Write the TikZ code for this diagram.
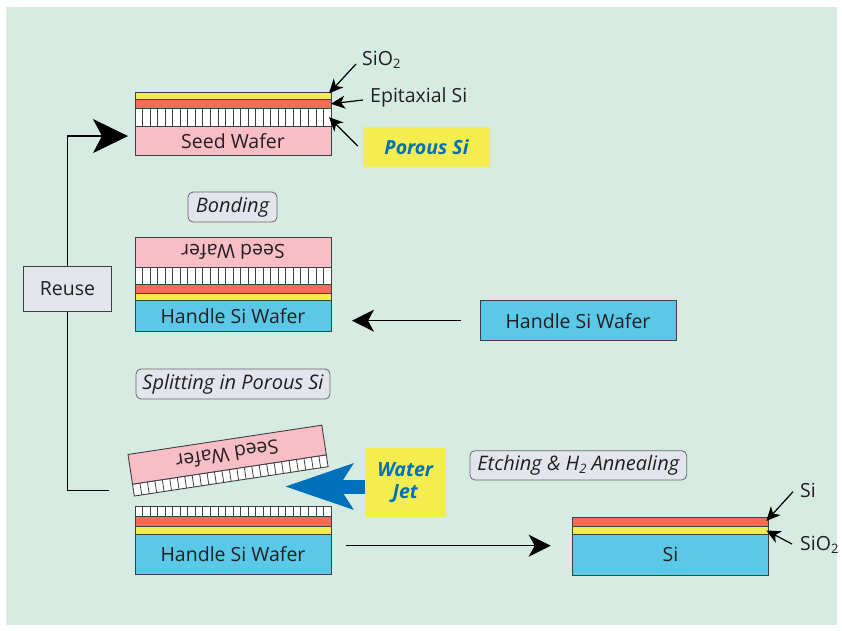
\documentclass[tikz,border=0pt]{standalone}
\usepackage{fontspec}
\setmainfont{Open Sans}
\usetikzlibrary{arrows.meta,calc}

\definecolor{mint}{RGB}{214,235,226}
\definecolor{oxide}{RGB}{242,236,80}
\definecolor{episi}{RGB}{242,107,91}
\definecolor{seedpink}{RGB}{248,190,198}
\definecolor{handleblue}{RGB}{91,200,232}
\definecolor{tagfill}{RGB}{226,230,236}
\definecolor{edge}{RGB}{64,64,66}
\definecolor{ink}{RGB}{35,31,32}
\definecolor{jetblue}{RGB}{0,112,186}
\definecolor{noteyellow}{RGB}{243,237,80}

% small lowered "2" for chemical formulas
\newcommand{\subtwo}{\raisebox{-0.15em}{\fontsize{13}{13}\selectfont 2}}
% vertical cell walls of a porous-silicon layer (26 cells)
\newcommand{\porecells}[1]{%
  \foreach \k in {1,...,25}
    \draw[cellwall] ($(#1.south west)!\k/26!(#1.south east)$) --
                    ($(#1.north west)!\k/26!(#1.north east)$);}

\begin{document}
\begin{tikzpicture}[x=1pt,y=-1pt,
  layer/.style={draw=edge, line width=0.9pt, minimum width=196pt,
    inner sep=0pt, outer sep=0pt, anchor=north west},
  oxlayer/.style={layer, fill=oxide},
  epilayer/.style={layer, fill=episi},
  porlayer/.style={layer, fill=white},
  seedlayer/.style={layer, fill=seedpink},
  handlelayer/.style={layer, fill=handleblue},
  cellwall/.style={draw=edge, line width=0.8pt},
  wafertext/.style={font=\fontsize{19.5}{22}\selectfont, text=ink, inner sep=0pt},
  labeltext/.style={font=\fontsize{19.5}{22}\selectfont, text=ink, inner sep=0pt, anchor=west},
  steptag/.style={draw=edge!80, line width=0.8pt, fill=tagfill, rounded corners=5pt,
    font=\fontsize{20}{22}\selectfont\itshape, text=ink, inner sep=0pt},
  notebox/.style={fill=noteyellow, inner sep=0pt, text=jetblue,
    font=\fontsize{19.5}{22}\selectfont\bfseries\itshape, align=center},
  conn/.style={draw=black, line width=1.3pt},
  pointer/.style={draw=black, line width=1.2pt,
    -{Stealth[length=14pt, width=13pt, inset=4pt]}},
  flow/.style={conn, -{Stealth[length=22pt, width=22pt, inset=6pt]}},
]
\useasboundingbox (0,0) rectangle (842,630);
\fill[white] (0,0) rectangle (842,630);
\fill[mint] (6,7) rectangle (837,625);

% ---- seed wafer with porous Si, epitaxial Si and oxide
\node[seedlayer, minimum height=29.7pt] (s1seed) at (135,126) {};
\node[wafertext] at (s1seed.center) {Seed Wafer};
\node[porlayer, minimum height=17.7pt] (s1por) at (135,108.3) {};
\porecells{s1por}
\node[epilayer, minimum height=9pt] (s1epi) at (135,99.3) {};
\node[oxlayer, minimum height=7pt] (s1ox) at (135,92.3) {};

\node[labeltext] (labox) at (362,60) {SiO\subtwo};
\node[labeltext] (labepi) at (370,97) {Epitaxial Si};
\node[notebox, minimum width=127pt, minimum height=40pt] (porbox) at (426.5,147) {Porous Si};
\draw[pointer] ($(labox.west)+(-6,4)$) -- ($(s1ox.north east)+(-2,1)$);
\draw[pointer] ($(labepi.west)+(-7,3)$) -- (s1epi.east);
\draw[pointer] ($(porbox.west)+(-5,-1)$) -- ($(s1por.east)+(-2,0)$);

% ---- bonding
\node[steptag, minimum width=89pt, minimum height=30pt] (tagbond) at (232.5,207) {Bonding};

\node[seedlayer, minimum height=30pt] (bseed) at (135,237) {};
\node[wafertext, rotate=180] at (bseed.center) {Seed Wafer};
\node[porlayer, minimum height=17pt] (bpor) at (135,267) {};
\porecells{bpor}
\node[epilayer, minimum height=9pt] (bepi) at (135,284) {};
\node[oxlayer, minimum height=7.7pt] (box) at (135,293) {};
\node[handlelayer, minimum height=31pt] (bhandle) at (135,300.7) {};
\node[wafertext] at (bhandle.center) {Handle Si Wafer};

\node[handlelayer, minimum height=40pt] (rhandle) at (480,300.7) {};
\node[wafertext] at (rhandle.center) {Handle Si Wafer};
\draw[flow] ($(rhandle.west)+(-19,0)$) -- ($(bhandle.east |- rhandle.west)+(21,0)$);

% ---- splitting
\node[steptag, minimum width=194pt, minimum height=30pt] (tagsplit) at (233,384) {Splitting in Porous Si};

\begin{scope}[shift={(134.3,496)}, rotate=8.6, transform shape]
  \node[porlayer, anchor=south west, minimum height=12pt] (tpor) at (0,0) {};
  \porecells{tpor}
  \node[seedlayer, anchor=south west, minimum height=30pt] (tseed) at (tpor.north west) {};
  \node[wafertext, rotate=180] at (tseed.center) {Seed Wafer};
\end{scope}

\node[notebox, minimum width=80.7pt, minimum height=68.4pt] (jet) at (405.3,482.5) {Water\\Jet};
\draw[jetblue, line width=14pt, -{Stealth[length=67pt, width=44pt, inset=13pt]}]
  ($(jet.west)+(0,4)$) -- ++(-80,0);

\node[porlayer, minimum height=10pt] (cpor) at (135,506.7) {};
\porecells{cpor}
\node[epilayer, minimum height=9.3pt] (cepi) at (135,516.7) {};
\node[oxlayer, minimum height=8pt] (cox) at (135,526) {};
\node[handlelayer, minimum height=40.3pt] (chandle) at (135,534) {};
\node[wafertext] at (chandle.center) {Handle Si Wafer};

% ---- etching and annealing: final SOI wafer
\node[steptag, minimum width=216.7pt, minimum height=29.3pt] (tagetch) at (578.3,465.3) {Etching \& H\subtwo{} Annealing};

\node[epilayer, minimum height=9.4pt, minimum width=195.6pt] (dsi) at (572.7,517.3) {};
\node[oxlayer, minimum height=7.6pt, minimum width=195.6pt] (dox) at (572.7,526.7) {};
\node[handlelayer, minimum height=40.7pt, minimum width=195.6pt] (dsub) at (572.7,534.3) {};
\node[wafertext] at (dsub.center) {Si};

\node[labeltext] (labsi) at (800,490.7) {Si};
\node[labeltext] (labox2) at (800,545) {SiO\subtwo};
\draw[pointer] ($(labsi.west)+(-7,1)$) -- ($(dsi.east)+(-2,-1)$);
\draw[pointer] ($(labox2.west)+(-8,-1)$) -- ($(dox.east)+(-2,0)$);

\draw[flow] ($(chandle.east)+(15,-8.5)$) -- ($(dsub.west)+(-22,-9)$);

% ---- reuse loop
\node[draw=edge, line width=0.9pt, fill=tagfill, minimum width=88.4pt, minimum height=44.3pt,
  inner sep=0pt, font=\fontsize{19.5}{22}\selectfont, text=ink] (reuse) at (67.5,289) {Reuse};
\coordinate (splitend) at (108.5,490.7);
\draw[conn] (splitend) -| (reuse.south);
\draw[conn, -{Stealth[length=35pt, width=34pt, inset=9pt]}]
  (reuse.north) |- ($(s1seed.west)+(-7,-4.8)$);
\end{tikzpicture}
\end{document}
